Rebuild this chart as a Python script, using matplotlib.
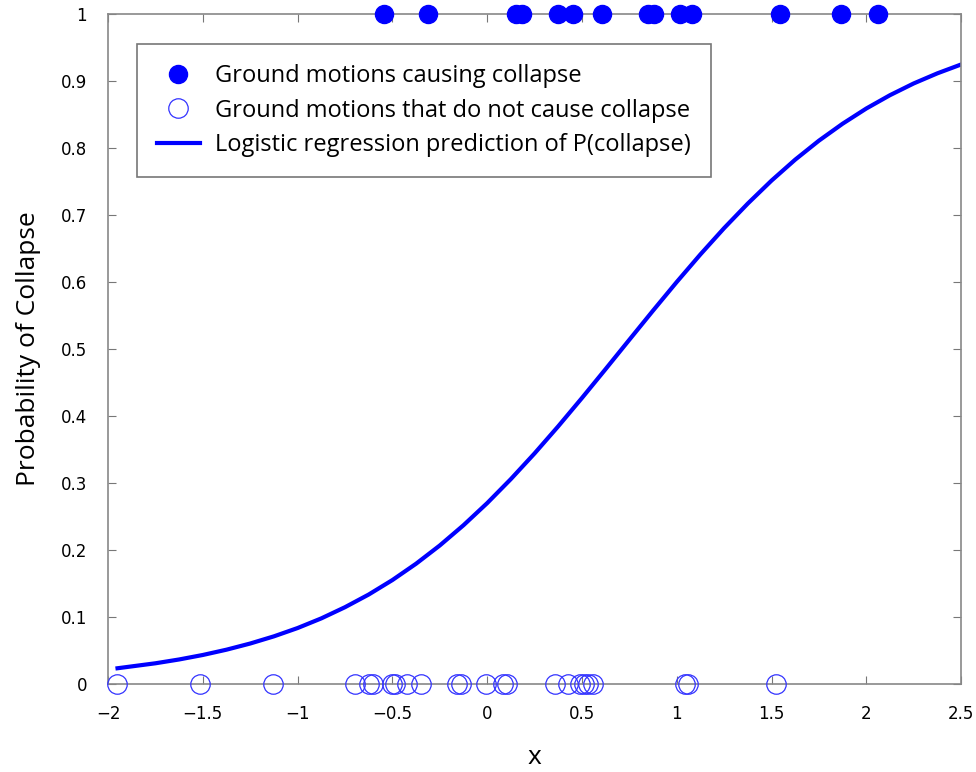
import matplotlib
matplotlib.use('Agg')
import matplotlib.pyplot as plt

# ground motions that caused collapse (plotted at P = 1)
x_collapse = [-0.544, -0.311, 0.153, 0.185, 0.375, 0.454, 0.607, 0.850,
              0.881, 1.018, 1.082, 1.546, 1.868, 2.063]
# ground motions that did not cause collapse (plotted at P = 0)
x_no_collapse = [-1.954, -1.515, -1.131, -0.697, -0.621, -0.603, -0.503, -0.485,
                 -0.424, -0.348, -0.160, -0.139, -0.005, 0.086, 0.104, 0.359,
                 0.427, 0.491, 0.512, 0.533, 0.559, 1.045, 1.060, 1.525]

# logistic regression curve
curve_x = [-1.95, -1.75, -1.625, -1.5, -1.375, -1.25, -1.125, -1.0, -0.875,
           -0.75, -0.625, -0.5, -0.375, -0.25, -0.125, 0.0, 0.125, 0.25, 0.375,
           0.5, 0.625, 0.75, 0.875, 1.0, 1.125, 1.25, 1.375, 1.5, 1.625, 1.75,
           1.875, 2.0, 2.125, 2.25, 2.375, 2.5]
curve_p = [0.0235, 0.0309, 0.0366, 0.0433, 0.0512, 0.0604, 0.0711, 0.0835, 0.0979,
           0.1146, 0.1335, 0.1551, 0.1795, 0.2067, 0.2369, 0.2699, 0.3058, 0.3441,
           0.3846, 0.4268, 0.4700, 0.5137, 0.5572, 0.5999, 0.6411, 0.6803, 0.7170,
           0.7512, 0.7825, 0.8108, 0.8361, 0.8588, 0.8787, 0.8962, 0.9113, 0.9245]

xticks = [-2, -1.5, -1, -0.5, 0, 0.5, 1, 1.5, 2, 2.5]
xtick_labels = ['\u22122', '\u22121.5', '\u22121', '\u22120.5', '0', '0.5', '1', '1.5', '2', '2.5']
yticks = [0, 0.1, 0.2, 0.3, 0.4, 0.5, 0.6, 0.7, 0.8, 0.9, 1]
ytick_labels = ['0', '0.1', '0.2', '0.3', '0.4', '0.5', '0.6', '0.7', '0.8', '0.9', '1']

fig = plt.figure(figsize=(9.76, 7.72), dpi=100)
ax = fig.add_axes([0.1107, 0.114, 0.874, 0.868])

ax.plot(x_collapse, [1] * len(x_collapse), 'o', color='blue', markersize=13,
        clip_on=False, zorder=3, label='Ground motions causing collapse')
ax.plot(x_no_collapse, [0] * len(x_no_collapse), 'o', markerfacecolor='none',
        markeredgecolor='#3333ff', markeredgewidth=0.9, markersize=14,
        clip_on=False, zorder=3, label='Ground motions that do not cause collapse')
ax.plot(curve_x, curve_p, '-', color='blue', linewidth=3,
        label='Logistic regression prediction of P(collapse)')

ax.set_xlim(-2, 2.5)
ax.set_ylim(0, 1)
ax.set_xticks(xticks)
ax.set_xticklabels(xtick_labels)
ax.set_yticks(yticks)
ax.set_yticklabels(ytick_labels)
ax.tick_params(direction='in', top=True, right=True, length=6, color='#777777',
               labelsize=12, pad=15)
for s in ax.spines.values():
    s.set_color('#888888')
    s.set_linewidth(1.2)

ax.set_xlabel('x', fontsize=19, family='Open Sans', labelpad=16)
ax.set_ylabel('Probability of Collapse', fontsize=19, family='Open Sans', labelpad=14)

leg = ax.legend(loc='upper left', bbox_to_anchor=(0.034, 0.955),
                prop={'family': 'Open Sans', 'size': 17}, fancybox=False,
                edgecolor='#777777', framealpha=1, borderpad=0.85,
                handlelength=1.8, handletextpad=0.65, labelspacing=0.45,
                borderaxespad=0)
leg.get_frame().set_linewidth(1.2)

fig.savefig('out.png', dpi=100)
